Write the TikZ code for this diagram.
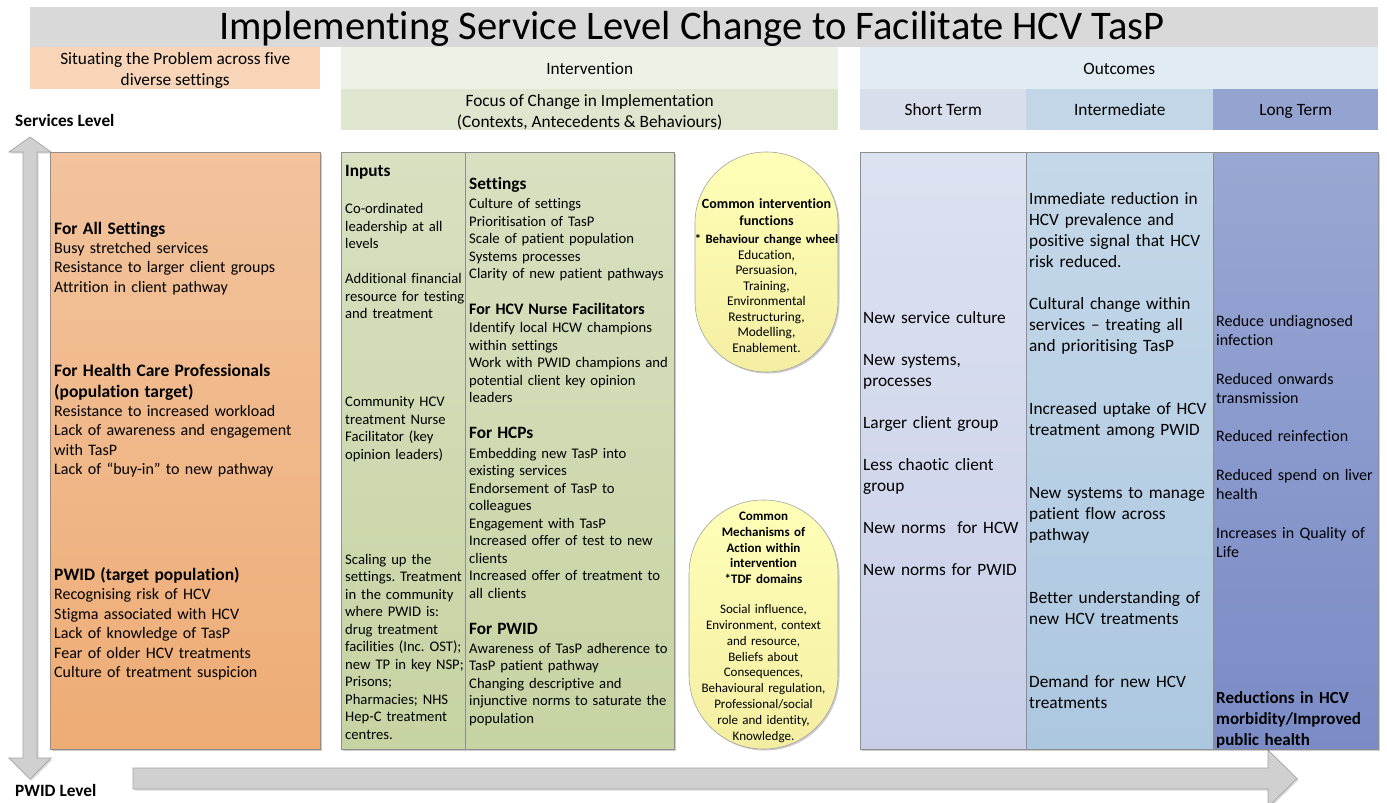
\documentclass[tikz,border=0pt]{standalone}
\usepackage{fontspec}
\setmainfont{Carlito}[Ligatures={TeX,NoCommon}]
\usetikzlibrary{calc,positioning,shadows}
\frenchspacing

\definecolor{titlegray}{HTML}{D9D9D9}
\definecolor{situfill}{HTML}{F8D5B8}
\definecolor{intvfill}{HTML}{EEF2E6}
\definecolor{focusfill}{HTML}{DFE6CF}
\definecolor{outcfill}{HTML}{E1EBF2}
\definecolor{shorthd}{HTML}{D9DEED}
\definecolor{interhd}{HTML}{C3D6E8}
\definecolor{longhd}{HTML}{95A3D1}
\definecolor{probtop}{HTML}{F2C39D}
\definecolor{probbot}{HTML}{EEAC75}
\definecolor{greentop}{HTML}{D8E0C1}
\definecolor{greenbot}{HTML}{C6D3A2}
\definecolor{shorttop}{HTML}{DDE2F1}
\definecolor{shortbot}{HTML}{C8CEE8}
\definecolor{intertop}{HTML}{C5D8E9}
\definecolor{interbot}{HTML}{ACC7E0}
\definecolor{longtop}{HTML}{99A7D3}
\definecolor{longbot}{HTML}{7A8BC6}
\definecolor{pilltop}{HTML}{FFFFB8}
\definecolor{pillbot}{HTML}{F4EEA2}
\definecolor{arrowfill}{HTML}{D0D0D0}
\definecolor{arrowline}{HTML}{A3A3A3}
\definecolor{panelline}{HTML}{8E8E8E}

\newcommand{\hdl}[1]{{\fontsize{17.5}{19.5}\selectfont\bfseries #1}}
\newcommand{\hdm}[1]{{\fontsize{17.3}{17.5}\selectfont\bfseries #1}}
\newcommand{\hds}[1]{{\fontsize{16}{17.5}\selectfont\bfseries #1}}

\begin{document}
\begin{tikzpicture}[x=1pt,y=-1pt,
  band/.style={anchor=north west,inner sep=0pt,minimum height=42pt,align=center,font=\fontsize{17.3}{21}\selectfont},
  oneline/.style={text height=14pt,text depth=2pt},
  twoline/.style={label={[align=center,font=\fontsize{17.3}{21}\selectfont,yshift=-2pt]center:#1}},
  panel/.style={anchor=north west,inner sep=0pt,minimum height=597pt,draw=panelline,line width=0.7pt,
    drop shadow={shadow xshift=1.5pt,shadow yshift=-1.5pt,fill=black,opacity=0.2}},
  pill/.style={draw=arrowline,line width=0.6pt,top color=pilltop,bottom color=pillbot,inner sep=0pt,
    drop shadow={shadow xshift=1.5pt,shadow yshift=-1.5pt,fill=black,opacity=0.2}},
  txt/.style={anchor=base west,inner sep=0pt,align=left,text width=#1},
  pilltxt/.style={anchor=base,inner sep=0pt,align=center,text width=150pt},
  levelarrow/.style={fill=arrowfill,draw=arrowline,line width=0.7pt,line join=miter,
    drop shadow={shadow xshift=1.5pt,shadow yshift=-1.5pt,fill=black,opacity=0.15}}]

\useasboundingbox (0,0) rectangle (1387,803);

% headings
\node[fill=titlegray,anchor=north west,inner sep=0pt,minimum width=1348pt,minimum height=40pt] (title) at (30,7) {};
\node[anchor=base,inner sep=0pt,font=\fontsize{40.6}{48}\selectfont] (titletxt) at (692,39) {Implementing Service Level Change to Facilitate HCV TasP};
\node[band,fill=situfill,minimum width=290pt,twoline={Situating the Problem across five\\diverse settings}] (situ) at (30,47) {};
\node[band,oneline,fill=intvfill,minimum width=497pt] (intv) at (341,47) {Intervention};
\node[band,fill=focusfill,minimum width=497pt,minimum height=41pt,
      twoline={Focus of Change in Implementation\\(Contexts, Antecedents \& Behaviours)}] (focus) at (341,89) {};
\node[band,oneline,fill=outcfill,minimum width=518pt] (outc) at (860,47) {Outcomes};
\foreach \n/\x/\w/\c/\t in {st/860/166/shorthd/Short Term, it/1026/187/interhd/Intermediate, lt/1213/165/longhd/Long Term}
  \node[band,oneline,fill=\c,minimum width=\w pt,minimum height=41pt] (\n) at (\x,89) {\t};

\node[anchor=west,inner sep=0pt,font=\fontsize{17.3}{20}\selectfont\bfseries] (svclvl) at (15,120) {Services Level};
\node[anchor=west,inner sep=0pt,font=\fontsize{17.3}{20}\selectfont\bfseries] (pwidlvl) at (15,790) {PWID Level};

% arrows
\draw[levelarrow] (30,137) -- (51,152) -- (37,152) -- (37,758) -- (51,758) -- (30,779) -- (9,758) -- (23,758) -- (23,152) -- (9,152) -- cycle;
\draw[levelarrow] (133,768) -- (1268,768) -- (1268,750) -- (1297,778.5) -- (1268,807) -- (1268,789) -- (133,789) -- cycle;

% panels
\node[panel,minimum width=270pt,top color=probtop,bottom color=probbot] (prob) at (50,152) {};
\node[panel,minimum width=124pt,top color=greentop,bottom color=greenbot] (inputs) at (341,152) {};
\node[panel,minimum width=209pt,top color=greentop,bottom color=greenbot] (change) at (465,152) {};
\node[panel,minimum width=166pt,top color=shorttop,bottom color=shortbot] (short) at (860,152) {};
\node[panel,minimum width=187pt,top color=intertop,bottom color=interbot] (inter) at (1026,152) {};
\node[panel,minimum width=165pt,top color=longtop,bottom color=longbot] (long) at (1213,152) {};

\node[pill,minimum width=143pt,minimum height=220pt,rounded corners=71pt] (funcs) at (766.5,262) {};
\node[pill,minimum width=149pt,minimum height=249pt,rounded corners=74pt] (mechs) at (763.5,624.5) {};

% problem column
\node[txt=265pt,font=\fontsize{16}{19.5}\selectfont] (probtxt) at (54,234) {\hdl{For All Settings}\\[-0.5pt]
  Busy stretched services\\ Resistance to larger client groups\\ Attrition in client pathway\\[64.5pt]
  \hdl{For Health Care Professionals}\\[1.5pt] \hdl{(population target)}\\[-0.5pt]
  Resistance to increased workload\\ Lack of awareness and engagement\\ with TasP\\ Lack of “buy-in” to new pathway\\[86.5pt]
  \hdl{PWID (target population)}\\[-0.5pt]
  Recognising risk of HCV\\ Stigma associated with HCV\\ Lack of knowledge of TasP\\ Fear of older HCV treatments\\ Culture of treatment suspicion};

% intervention columns
\node[txt=140pt,font=\fontsize{14.67}{17.5}\selectfont] (inputstxt) at (345,176.5) {\hdm{Inputs}\\[19.5pt]
  Co-ordinated\\ leadership at all\\ levels\\[17.5pt]
  Additional financial\\ resource for testing\\ and treatment\\[70.5pt]
  Community HCV\\ treatment Nurse\\ Facilitator (key\\ opinion leaders)\\[87.5pt]
  Scaling up the\\ settings. Treatment\\ in the community\\ where PWID is:\\ drug treatment\\ facilities (Inc. OST);\\
  new TP in key NSP;\\ Prisons;\\ Pharmacies; NHS\\ Hep-C treatment\\ centres.};
\node[txt=210pt,font=\fontsize{14.67}{17.5}\selectfont] (changetxt) at (469,189.5) {\hdm{Settings}\\[1.5pt]
  Culture of settings\\ Prioritisation of TasP\\ Scale of patient population\\ Systems processes\\ Clarity of new patient pathways\\[18.5pt]
  \hds{For HCV Nurse Facilitators}\\[0.5pt]
  Identify local HCW champions\\ within settings\\ Work with PWID champions and\\ potential client key opinion\\ leaders\\[18.5pt]
  \hdm{For HCPs}\\[2pt]
  Embedding new TasP into\\ existing services\\ Endorsement of TasP to\\ colleagues\\ Engagement with TasP\\
  Increased offer of test to new\\ clients\\ Increased offer of treatment to\\ all clients\\[18.5pt]
  \hdm{For PWID}\\[1.5pt]
  Awareness of TasP adherence to\\ TasP patient pathway\\ Changing descriptive and\\ injunctive norms to saturate the\\ population};

\node[pilltxt,font=\fontsize{13.3}{15.5}\selectfont] (funcstxt) at (766.5,208) {{\fontsize{14}{15.5}\selectfont\bfseries Common intervention}\\[2pt]
  {\fontsize{14}{15.5}\selectfont\bfseries functions}\\[2pt] {\fontsize{12.75}{15.5}\selectfont\bfseries * Behaviour change wheel}\\[0.5pt]
  Education,\\ Persuasion,\\ Training,\\ Environmental\\ Restructuring,\\ Modelling,\\ Enablement.};
\node[pilltxt,font=\fontsize{13}{15.8}\selectfont] (mechstxt) at (763.5,520.5) {\textbf{Common}\\ \textbf{Mechanisms of}\\
  \textbf{Action within}\\ \textbf{intervention}\\ \textbf{*TDF domains}\\[14.2pt]
  Social influence,\\ Environment, context\\ and resource,\\ Beliefs about\\ Consequences,\\ Behavioural regulation,\\
  Professional/social\\ role and identity,\\ Knowledge.};

% outcome columns
\node[txt=165pt,font=\fontsize{17.3}{21}\selectfont] (shorttxt) at (863,323.7) {New service culture\\[21pt]
  New systems,\\ processes\\[21pt] Larger client group\\[21pt] Less chaotic client\\ group\\[21pt]
  New norms \ for HCW\\[21pt] New norms for PWID};
\node[txt=185pt,font=\fontsize{17.3}{21}\selectfont] (intertxt) at (1029,204.7) {Immediate reduction in\\ HCV prevalence and\\
  positive signal that HCV\\ risk reduced.\\[21pt]
  Cultural change within\\ services – treating all\\ and prioritising TasP\\[42pt]
  Increased uptake of HCV\\ treatment among PWID\\[42pt]
  New systems to manage\\ patient flow across\\ pathway\\[42pt]
  Better understanding of\\ new HCV treatments\\[42pt]
  Demand for new HCV\\ treatments};
\node[txt=165pt,font=\fontsize{16}{19.25}\selectfont] (longtxt) at (1216,326.3) {Reduce undiagnosed\\ infection\\[19.25pt]
  Reduced onwards\\ transmission\\[19.25pt] Reduced reinfection\\[19.25pt]
  Reduced spend on liver\\ health\\[19.25pt] Increases in Quality of\\ Life};
\node[txt=165pt,font=\fontsize{17}{21}\selectfont\bfseries] (longgoal) at (1216,703.7) {Reductions in HCV\\ morbidity/Improved\\ public health};

\end{tikzpicture}
\end{document}
